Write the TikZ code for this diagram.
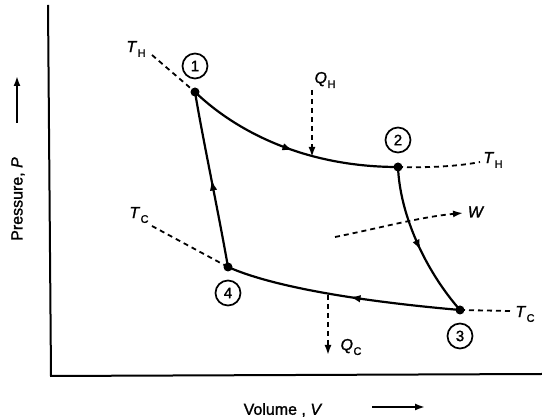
\documentclass[tikz,border=0pt]{standalone}
\usepackage{fontspec}
\setmainfont{Liberation Sans}[FakeBold=1.4]
\usetikzlibrary{arrows.meta,decorations.markings}
\newcommand{\sub}[2]{\textit{#1}\kern0.5pt\raisebox{-0.3em}{\fontsize{11}{11}\selectfont #2}}
\begin{document}
\begin{tikzpicture}[x=1pt,y=-1pt,
  curve/.style={line width=2.2pt},
  dsh/.style={line width=1.8pt, dash pattern=on 5pt off 4pt},
  pt/.style={circle,fill,inner sep=0pt,minimum size=9pt},
  num/.style={circle,draw,line width=1.7pt,inner sep=0pt,minimum size=25pt,font=\fontsize{15}{15}\selectfont},
  lbl/.style={font=\fontsize{16}{19}\selectfont, inner sep=1pt},
  midarrow/.style={postaction={decorate},decoration={markings,mark=at position #1 with {\arrow{Latex[length=11pt,width=7.5pt]}}}},
  tip/.style={-{Latex[length=10pt,width=7pt]}}
]
\useasboundingbox (0,0) rectangle (542,419);
% axes
\coordinate (ytop) at (48,5);
\coordinate (orig) at (51,376);
\coordinate (xend) at (542,374);
\draw[line width=2pt] (ytop) -- (orig) -- (xend);
\node[lbl, rotate=90] (plab) at (18,199) {Pressure, \textit{P}};
\coordinate (pa1) at (17,123);
\coordinate (pa2) at (17,76);
\draw[line width=1.8pt, tip] (pa1) -- (pa2);
\node[lbl] (vlab) at (283,410) {Volume , \textit{V}};
\coordinate (va1) at (372,407);
\coordinate (va2) at (425,407);
\draw[line width=1.8pt, tip] (va1) -- (va2);
% state points
\node[pt] (p1) at (195,92) {};
\node[pt] (p2) at (398,167) {};
\node[pt] (p3) at (460,310) {};
\node[pt] (p4) at (228,267) {};
\node[num] (n1) at (195,66) {1};
\node[num] (n2) at (398,140) {2};
\node[num] (n3) at (460,336) {3};
\node[num] (n4) at (228,293) {4};
% cycle
\draw[curve, midarrow=0.52] (p1.center) .. controls (240,135) and (310,167) .. (p2.center);
\draw[curve, midarrow=0.55] (p2.center) .. controls (400,215) and (425,270) .. (p3.center);
\draw[curve, midarrow=0.47] (p3.center) .. controls (380,303) and (280,290) .. (p4.center);
\draw[curve, midarrow=0.5] (p4.center) .. controls (218,210) and (203,140) .. (p1.center);
% isotherm extensions
\coordinate (th1e) at (152,55);
\draw[dsh] (th1e) -- (p1.center);
\node[lbl] (th1) at (136,49) {\sub{T}{H}};
\coordinate (th2e) at (480,162);
\draw[dsh] (p2.center) .. controls (430,168) and (460,166) .. (th2e);
\node[lbl] (th2) at (493,160) {\sub{T}{H}};
\coordinate (tc1e) at (152,226);
\draw[dsh] (tc1e) -- (p4.center);
\node[lbl] (tc1) at (139,215) {\sub{T}{C}};
\coordinate (tc3e) at (510,311);
\draw[dsh] (p3.center) -- (tc3e);
\node[lbl] (tc3) at (525,314) {\sub{T}{C}};
% heat and work
\coordinate (qhs) at (312,90);
\coordinate (qhe) at (312,157);
\draw[dsh, tip] (qhs) -- (qhe);
\node[lbl] (qh) at (325,80) {\sub{Q}{H}};
\coordinate (qcs) at (328,295);
\coordinate (qce) at (328,355);
\draw[dsh, tip] (qcs) -- (qce);
\node[lbl] (qc) at (351,347) {\sub{Q}{C}};
\coordinate (ws) at (335,237);
\coordinate (we) at (463,213);
\draw[dsh, tip] (ws) .. controls (380,228) and (420,217) .. (we);
\node[lbl] (w) at (476,212) {\textit{W}};
\end{tikzpicture}
\end{document}
